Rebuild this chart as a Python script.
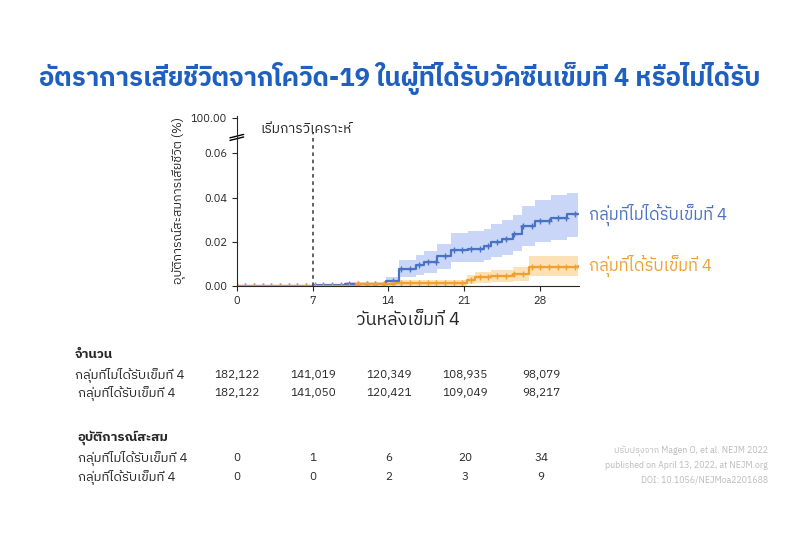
import numpy as np, pandas as pd, seaborn as sns, matplotlib
matplotlib.use("Agg")
import matplotlib.pyplot as plt
from matplotlib import font_manager as fm
sns.set_style("ticks")
names=sorted({f.name for f in fm.fontManager.ttflist})
thai=[n for n in names if 'Thai' in n or 'Loma' in n or 'Garuda' in n or 'Sarabun' in n]
plt.rcParams['font.family']=thai+['DejaVu Sans']

blue_t=[0,7,10,13.8,15,16.5,17.3,18.5,19.8,21.3,22.8,23.5,24.5,25.5,26.3,27.5,29,30.5,31.5]
blue_v=[0,0.0005,0.001,0.0022,0.008,0.0095,0.011,0.0135,0.0165,0.017,0.018,0.02,0.0215,0.0235,0.027,0.0295,0.031,0.0325,0.0325]
blue_lo=[0,0,0,0.0005,0.004,0.005,0.006,0.008,0.011,0.011,0.012,0.013,0.014,0.016,0.018,0.02,0.021,0.022,0.022]
blue_hi=[0,0.001,0.002,0.004,0.012,0.014,0.016,0.019,0.024,0.025,0.026,0.028,0.030,0.032,0.036,0.039,0.041,0.042,0.042]
or_t=[0,11,14.5,21.2,22,23.5,25.5,27,31.5]
or_v=[0,0.001,0.0015,0.003,0.004,0.0048,0.0055,0.0088,0.009]
or_lo=[0,0,0.0003,0.001,0.0015,0.002,0.0025,0.0045,0.0045]
or_hi=[0,0.002,0.003,0.005,0.0065,0.0075,0.0085,0.0135,0.014]

ticks_x=[0,7,14,21,28]
n_not=["182,122","141,019","120,349","108,935","98,079"]
n_got=["182,122","141,050","120,421","109,049","98,217"]
e_not=["0","1","6","20","34"]
e_got=["0","0","2","3","9"]
BL="#4a72c4"; OR="#f0a030"

fig=plt.figure(figsize=(8,5.33),dpi=100)
fig.text(0.5,1-78/533,"อัตราการเสียชีวิตจากโควิด-19 ในผู้ที่ได้รับวัคซีนเข็มที่ 4 หรือไม่ได้รับ",ha='center',va='center',fontsize=18.5,fontweight='bold',color='#1f5fbf')
ax=fig.add_axes([0.296,0.463,0.428,0.32])
for t,v,lo,hi,c,fc in [(blue_t,blue_v,blue_lo,blue_hi,BL,"#c9d6f7"),(or_t,or_v,or_lo,or_hi,OR,"#fbe1b5")]:
    ax.fill_between(t,lo,hi,step='post',color=fc,lw=0)
    df=pd.DataFrame({'t':t,'v':v})
    sns.lineplot(data=df,x='t',y='v',drawstyle='steps-post',color=c,lw=1.6,ax=ax)
    d=np.arange(0,32,0.8)
    mv=np.array(v)[np.searchsorted(t,d,side='right')-1]
    ax.plot(d,mv,'+',color=c,ms=5,mew=1)
ax.axvline(7,color='#555',ls=(0,(2,2)),lw=1.3,ymax=0.9)
ax.set_xlim(0,31.6); ax.set_ylim(0,0.077)
ax.set_xticks(ticks_x); ax.set_yticks([0,0.02,0.04,0.06,0.076])
ax.set_yticklabels(["0.00","0.02","0.04","0.06","100.00"],fontsize=8)
ax.tick_params(labelsize=8)
sns.despine(ax=ax)
ax.plot([-0.02,0.02],[0.855,0.875],transform=ax.transAxes,color='k',lw=1,clip_on=False)
ax.plot([-0.02,0.02],[0.87,0.89],transform=ax.transAxes,color='k',lw=1,clip_on=False)
ax.set_xlabel("วันหลังเข็มที่ 4",fontsize=13); ax.set_ylabel("อุบัติการณ์สะสมการเสียชีวิต (%)",fontsize=9)
ax.text(2.2,0.069,"เริ่มการวิเคราะห์",fontsize=10)
ax.text(32.5,0.032,"กลุ่มที่ไม่ได้รับเข็มที่ 4",color=BL,fontsize=12,va='center',clip_on=False)
ax.text(32.5,0.009,"กลุ่มที่ได้รับเข็มที่ 4",color=OR,fontsize=12,va='center',clip_on=False)
def xf(d): return (237+d*10.86)/800
def yf(p): return 1-p/533
fig.text(75/800,yf(355),"จำนวน",fontsize=9.5,fontweight='bold',va='center')
fig.text(78/800,yf(438),"อุบัติการณ์สะสม",fontsize=9.5,fontweight='bold',va='center')
for lab,row,y,x0 in [("กลุ่มที่ไม่ได้รับเข็มที่ 4",n_not,375,75),("กลุ่มที่ได้รับเข็มที่ 4",n_got,393,78),("กลุ่มที่ไม่ได้รับเข็มที่ 4",e_not,458,78),("กลุ่มที่ได้รับเข็มที่ 4",e_got,477,78)]:
    fig.text(x0/800,yf(y),lab,fontsize=9.5,ha='left',va='center')
    for d,s in zip(ticks_x,row):
        fig.text(xf(d),yf(y),s,fontsize=8.5,ha='center',va='center')
fig.text(0.96,yf(465),"ปรับปรุงจาก Magen O, et al. NEJM 2022\npublished on April 13, 2022, at NEJM.org\nDOI: 10.1056/NEJMoa2201688",fontsize=6.3,color='#bbb',ha='right',va='center',linespacing=1.7)
fig.savefig("out.png",dpi=100)
